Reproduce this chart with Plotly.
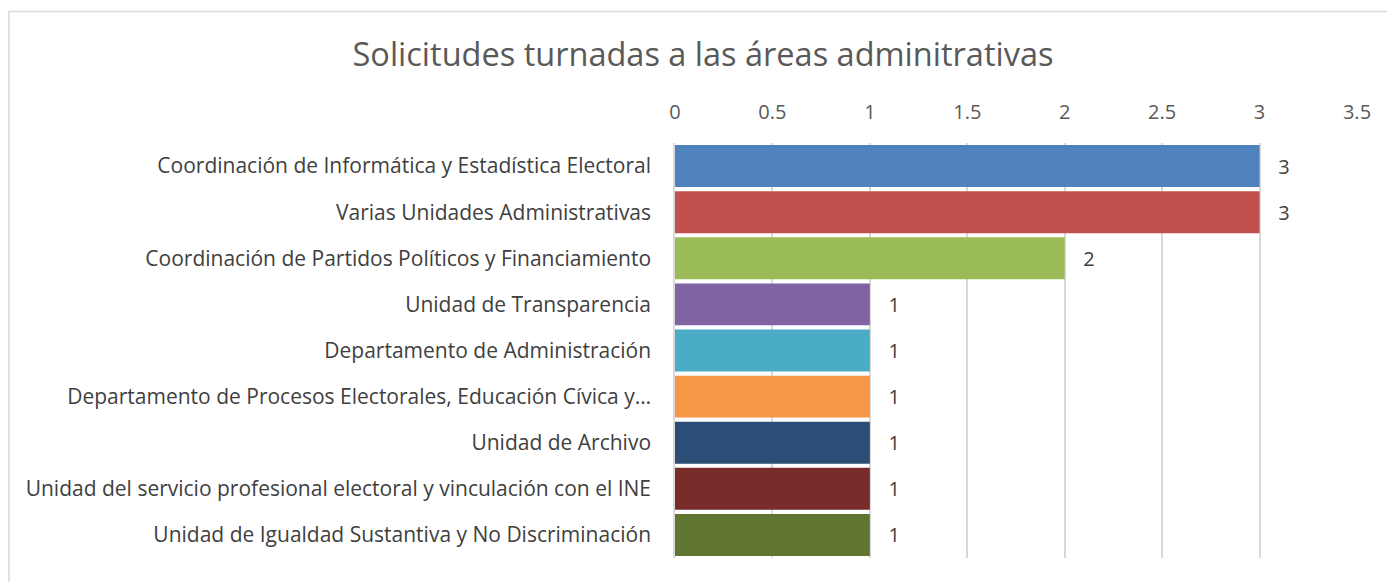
import plotly.graph_objects as go

categories = [
    "Coordinación de Informática y Estadística Electoral",
    "Varias Unidades Administrativas",
    "Coordinación de Partidos Políticos y Financiamiento",
    "Unidad de Transparencia",
    "Departamento de Administración",
    "Departamento de Procesos Electorales, Educación Cívica y…",
    "Unidad de Archivo",
    "Unidad del servicio profesional electoral y vinculación con el INE",
    "Unidad de Igualdad Sustantiva y No Discriminación",
]
values = [3, 3, 2, 1, 1, 1, 1, 1, 1]
colors = ["#4F81BD", "#C0504D", "#9BBB59", "#8064A2", "#4BACC6",
          "#F79646", "#2C4D75", "#772C2A", "#5F7530"]
x_ticks = [0, 0.5, 1, 1.5, 2, 2.5, 3, 3.5]

# page body has an 8px margin; figure sized to fit the window
W, H = 1387, 574
L, R, T, B = 667, 38, 135, 24
FONT = "Open Sans"

fig = go.Figure(go.Bar(
    y=categories, x=values, orientation="h",
    marker=dict(color=colors, line=dict(width=0)),
    text=[f"   {v}" for v in values], textposition="outside",
    textfont=dict(size=20, color="#404040", family=FONT),
    cliponaxis=False,
))

pw = W - L - R
ph = H - T - B
fig.add_shape(type="rect", xref="paper", yref="paper",
              x0=(1 - L) / pw, x1=(W + 5 - L) / pw,
              y0=(H - B - 600) / ph, y1=(H - B - 3.5) / ph,
              line=dict(color="#D9D9D9", width=1.5), fillcolor="rgba(0,0,0,0)", layer="below")

fig.update_layout(
    width=W, height=H,
    margin=dict(l=L, r=R, t=T, b=B),
    paper_bgcolor="white", plot_bgcolor="white",
    bargap=0.09,
    showlegend=False,
    font=dict(family=FONT, color="#595959", size=20),
    title=dict(text="Solicitudes turnadas a las áreas adminitrativas",
               x=695 / W, xanchor="center", y=1 - 47 / H, yanchor="middle",
               font=dict(size=32.5, color="#595959", family=FONT)),
    xaxis=dict(side="top", range=[0, 3.5], tickvals=x_ticks,
               ticktext=[str(t) for t in x_ticks],
               showgrid=True, gridcolor="#D9D9D9", gridwidth=1.5,
               zeroline=False, showline=False, ticks="",
               tickfont=dict(size=20, color="#595959"), ticklabelstandoff=19),
    yaxis=dict(autorange="reversed", showline=True, linecolor="#D9D9D9", linewidth=1.5,
               ticks="", tickfont=dict(size=21, color="#404040"), ticklabelstandoff=18),
)

fig.write_html("out.html")
